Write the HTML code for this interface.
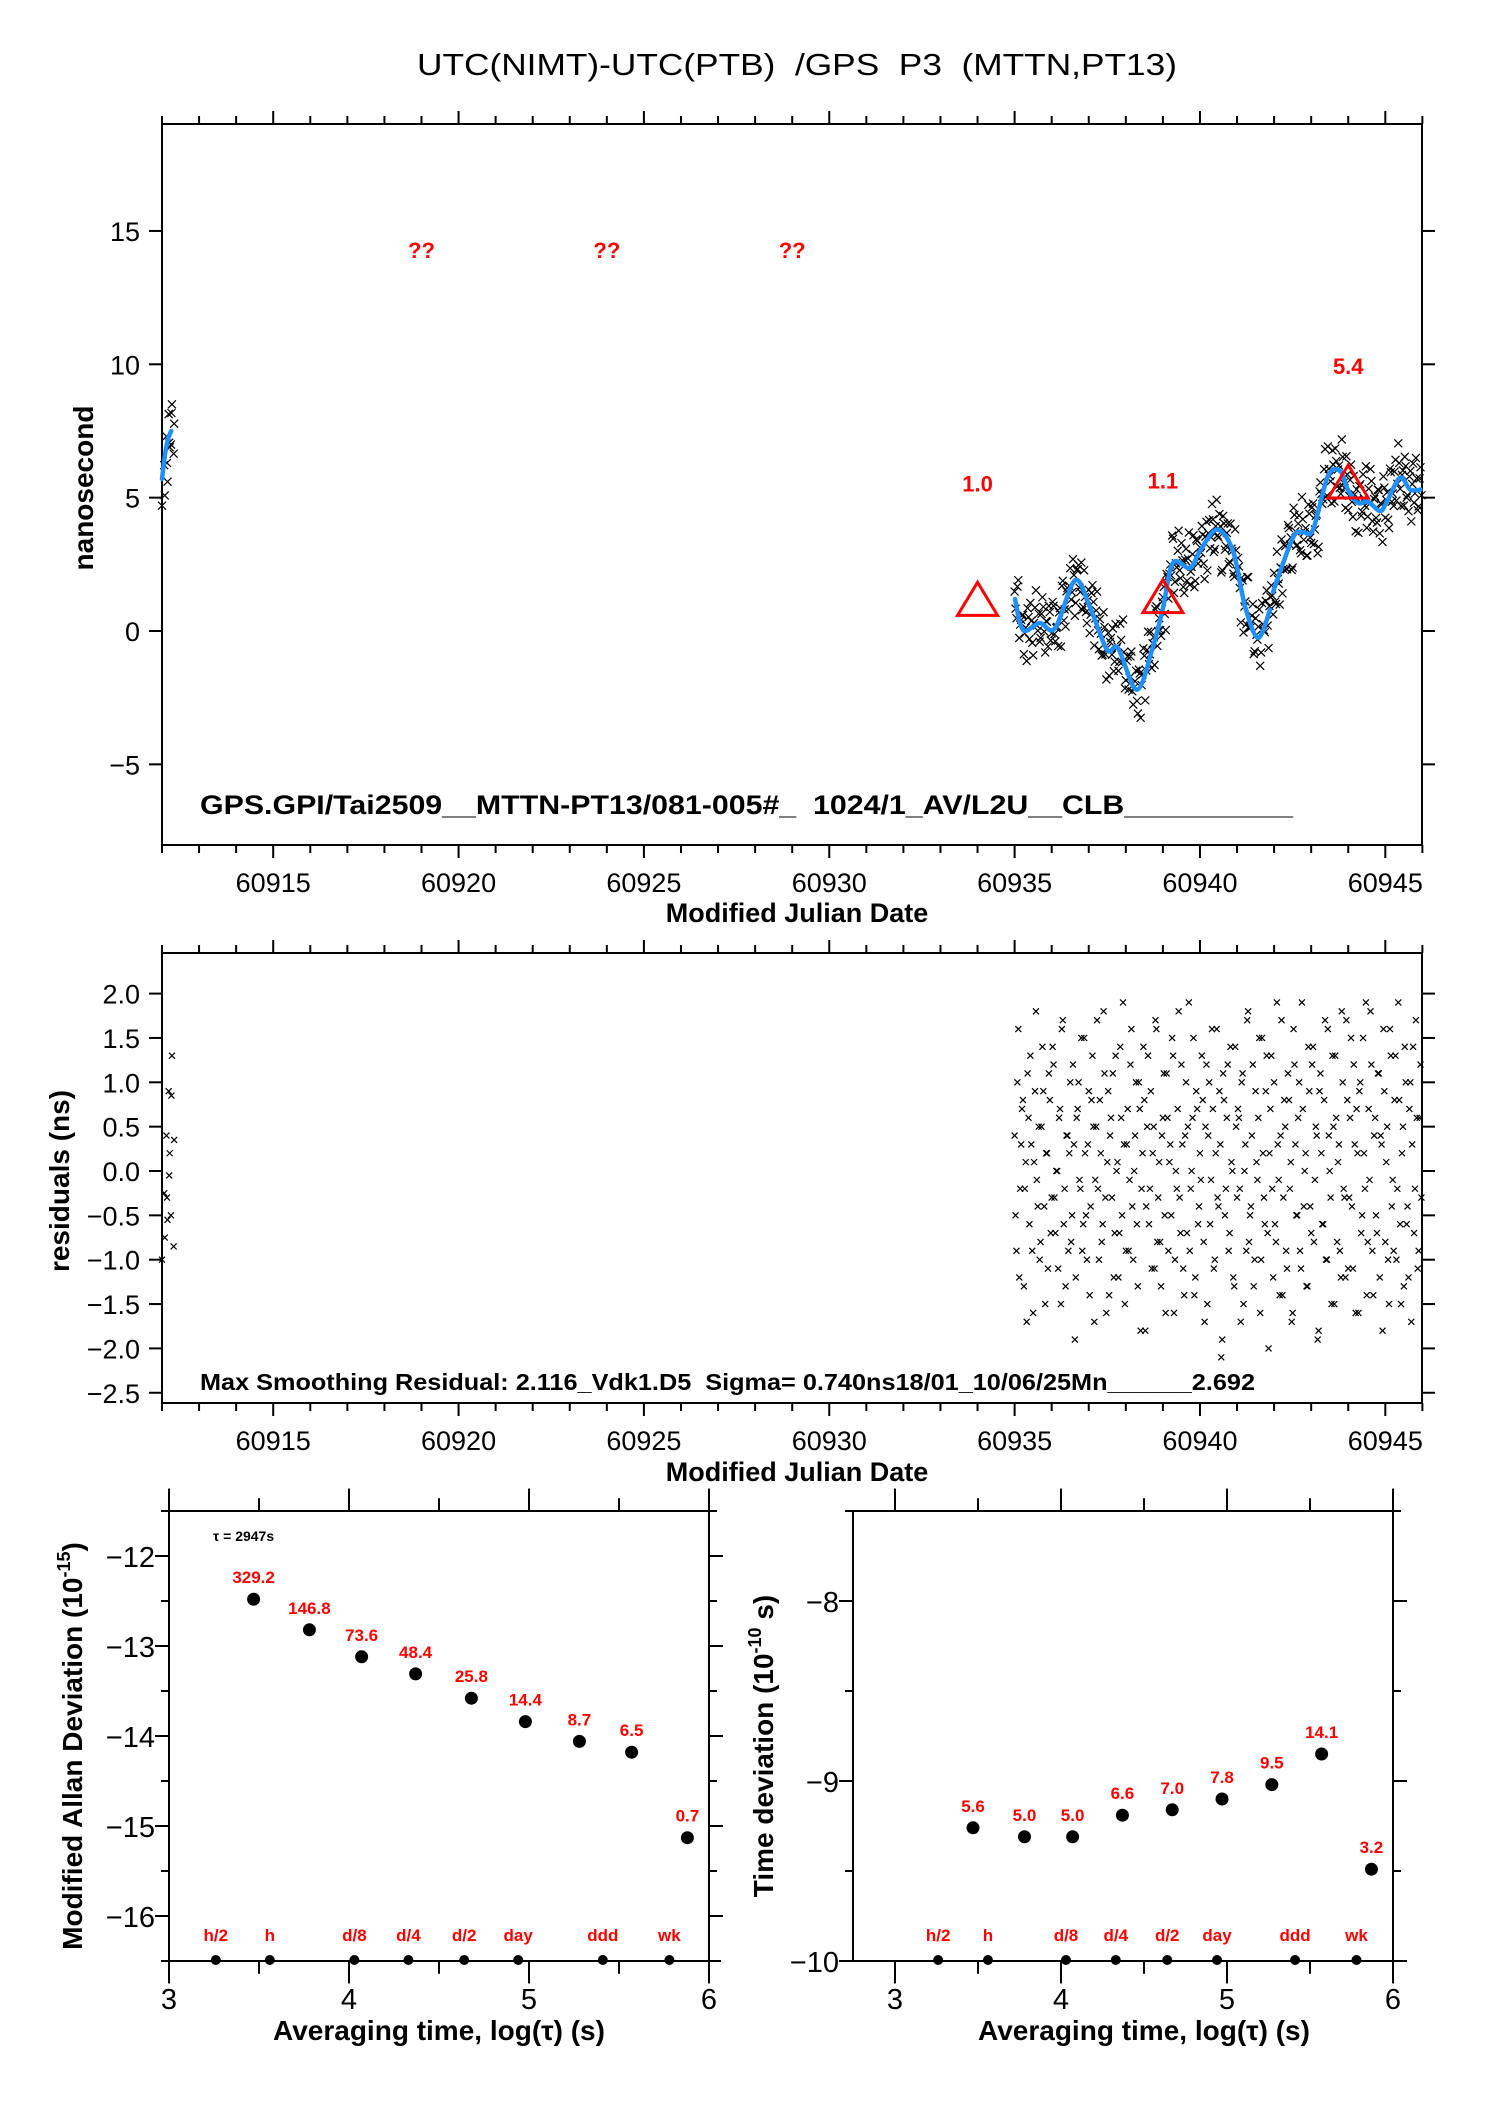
<!DOCTYPE html>
<html><head><meta charset="utf-8"><style>
html,body{margin:0;padding:0;background:#fff;}
svg{display:block;font-family:"Liberation Sans",sans-serif;}
text{white-space:pre;}
</style></head><body>
<svg id="c" width="1488" height="2105" viewBox="0 0 1488 2105" xmlns="http://www.w3.org/2000/svg" xml:space="preserve"></svg>
<script>
// ---------- data ----------
const smoothT1 = [60912.0,60912.08,60912.16,60912.25];
const smoothV1 = [5.7,6.6,7.2,7.5];
const smoothT2 = [60935.01,60935.23,60935.68,60936.09,60936.63,60937.03,60937.49,60937.79,60938.30,60938.73,60939.0,60939.27,60939.73,60940.0,60940.46,60940.89,60941.22,60941.57,60941.89];
const smoothV2 = [1.2,0.04,0.3,0.1,1.9,0.9,-0.7,-0.65,-2.2,-0.6,0.85,2.55,2.36,3.0,3.8,3.0,0.9,-0.26,0.8];
const smoothT3 = [60941.97,60942.51,60942.78,60943.05,60943.45,60943.78,60943.99,60944.26,60944.53,60944.86,60945.04,60945.4,60945.67,60945.95];
const smoothV3 = [1.46,3.5,3.7,3.8,5.8,6.0,5.3,4.8,4.85,4.5,4.85,5.75,5.3,5.3];
const startT = [60912.0,60912.02,60912.04,60912.06,60912.08,60912.1,60912.12,60912.14,60912.16,60912.18,60912.2,60912.22,60912.24,60912.26];
const startRes = [-1.0,-0.75,-0.55,-0.25,-0.3,0.2,0.4,-0.05,1.3,0.9,0.85,0.35,-0.5,-0.85];
const mainStart = 60935.0, mainStep = 0.05;
const mainRes = [
0.4,-0.9,1.6,-0.2,0.7,-1.3,0.1,1.1,-0.6,0.3,-1.6,0.9,-0.1,0.5,-0.8,1.4,-0.4,0.2,-1.1,0.8,
-0.3,1.2,-0.7,0.0,0.6,-1.5,1.7,-0.2,0.4,-0.9,1.0,-0.5,0.3,-1.2,0.7,-0.1,1.5,-0.6,0.2,-1.0,
0.9,-0.4,1.3,-1.7,0.5,-0.2,0.8,-0.8,1.8,-0.3,0.1,-1.4,0.6,1.1,-0.7,0.0,-1.2,1.4,-0.5,0.3,
-0.9,0.7,-0.1,1.6,-1.0,0.4,-0.6,1.0,-1.8,0.2,0.8,-0.4,1.3,-0.2,-1.1,0.5,1.7,-0.8,0.1,-1.3,
0.6,-0.5,1.1,-0.9,0.3,1.5,-1.6,0.0,0.7,-0.3,1.2,-1.1,0.4,-0.7,1.9,-0.2,0.6,-1.4,0.9,-0.6,
0.2,1.3,-0.8,0.5,-1.5,1.0,-0.1,0.7,-1.0,1.6,-0.4,0.3,-1.9,0.8,-0.2,1.2,-0.7,0.1,-1.2,1.4,
-0.3,0.6,-1.7,1.1,0.0,-0.9,1.8,-0.5,0.4,-1.3,0.9,-0.1,1.5,-1.0,0.2,-0.6,1.3,-2.0,0.7,-0.2,
1.0,-0.8,0.3,-1.4,1.7,-0.3,0.5,-1.1,0.8,0.1,-1.6,1.2,-0.5,0.6,-0.9,1.9,-0.4,0.2,-1.3,0.9,
-0.7,1.4,-0.1,0.4,-1.8,1.1,-0.6,0.8,-1.0,1.6,0.0,-1.5,0.5,1.3,-0.8,0.3,-1.2,1.0,-0.3,1.7,
-1.1,0.6,-0.4,1.2,-1.6,0.2,0.9,-0.7,1.5,-0.2,-1.4,0.7,1.8,-0.9,0.4,-0.5,1.1,-1.2,0.3,1.6,
-0.8,0.5,-1.5,1.3,-0.1,0.8,-1.0,1.9,-0.6,0.2,-1.3,1.0,-0.4,0.7,-1.7,1.4,-0.2,0.6,-0.9,1.2];
const mainResB = [
-0.5,1.0,-1.2,0.3,0.8,-0.2,-1.7,0.6,1.3,-0.9,0.1,1.8,-0.4,-1.0,0.5,0.9,-1.5,0.2,1.1,-0.7,
1.4,-0.3,0.0,-1.1,0.7,1.6,-0.6,-1.3,0.4,0.2,-0.8,1.2,-1.9,0.6,1.0,-0.2,-0.9,1.5,-0.5,0.3,
-1.4,0.8,0.5,-0.1,1.7,-1.0,0.2,-0.6,1.1,-1.6,0.9,0.4,-0.3,-1.2,1.3,0.1,-0.7,0.6,1.9,-1.5,
0.3,-0.9,1.2,-0.4,0.0,1.0,-1.3,0.7,-0.2,1.4,-1.8,0.5,-0.6,0.9,0.2,-1.1,1.6,-0.3,-0.8,0.4,
1.1,-1.6,0.6,0.1,-0.5,1.3,-1.0,-0.2,1.8,-0.7,0.3,-1.4,1.0,0.5,-0.9,0.0,1.5,-1.2,0.7,-0.4,
-0.1,0.8,-1.7,1.2,0.4,-0.6,1.6,-1.1,0.2,-0.3,0.9,-2.1,1.1,-0.5,0.6,-0.9,1.4,0.0,-1.3,0.5,
0.7,-0.2,1.0,-1.5,0.3,1.7,-0.8,-0.4,1.2,-1.0,0.1,0.6,-1.6,1.5,-0.3,0.9,-0.7,0.2,1.3,-1.2,
-0.6,1.9,-0.1,0.4,-1.4,0.8,-0.9,1.1,-0.2,-1.7,1.6,0.3,-0.5,1.0,-1.1,0.7,0.0,-1.3,1.4,-0.4,
1.2,-0.8,0.5,-1.9,0.9,0.2,-0.6,1.7,-1.0,0.4,-0.3,1.3,-1.5,0.6,0.1,-0.9,1.8,-0.2,-1.2,0.8,
-0.3,1.5,-1.1,0.3,0.7,-1.6,1.0,-0.5,0.2,1.9,-0.8,-0.1,1.2,-1.4,0.6,-0.7,1.1,0.4,-1.8,0.9,
0.1,-1.0,1.6,-0.4,-0.9,1.3,-0.2,0.8,-1.5,0.5,1.4,-0.6,-1.2,1.0,0.3,-0.7,1.7,-1.1,0.6,-0.3];
const triT = [60934,60939,60944];
const triV = [1.0,1.1,5.4];
const triLabels = ["1.0","1.1","5.4"];
const qT = [60919,60924,60929];
const adevX = [3.47,3.78,4.07,4.37,4.68,4.98,5.28,5.57,5.88];
const adevY = [-12.48,-12.82,-13.12,-13.31,-13.58,-13.84,-14.06,-14.18,-15.13];
const adevLabels = ["329.2","146.8","73.6","48.4","25.8","14.4","8.7","6.5","0.7"];
const tdevX = [3.47,3.78,4.07,4.37,4.67,4.97,5.27,5.57,5.87];
const tdevY = [-9.26,-9.31,-9.31,-9.19,-9.16,-9.10,-9.02,-8.85,-9.49];
const tdevLabels = ["5.6","5.0","5.0","6.6","7.0","7.8","9.5","14.1","3.2"];
const markX = [3.26,3.56,4.03,4.33,4.64,4.94,5.41,5.78];
const markLabels = ["h/2","h","d/8","d/4","d/2","day","ddd","wk"];

// ---------- helpers ----------
const NS="http://www.w3.org/2000/svg";
const svg=document.getElementById('c');
function mk(tag,attrs,parent){const e=document.createElementNS(NS,tag);for(const k in attrs)e.setAttribute(k,attrs[k]);(parent||svg).appendChild(e);return e;}
function txt(s,x,y,size,opts,parent){opts=opts||{};const e=mk('text',{x:x,y:y,'font-size':size,'text-anchor':opts.anchor||'middle',fill:opts.fill||'#000','font-weight':opts.bold?'bold':'normal'},parent);if(opts.tl){e.setAttribute('textLength',opts.tl);e.setAttribute('lengthAdjust','spacingAndGlyphs');}if(opts.rot)e.setAttribute('transform','rotate(-90 '+x+' '+y+')');e.textContent=s;return e;}
function line(x1,y1,x2,y2,w,parent,col){return mk('line',{x1:x1,y1:y1,x2:x2,y2:y2,stroke:col||'#000','stroke-width':w||2},parent);}
function interp(ts,vs,t){for(let i=0;i<ts.length-1;i++){if(t>=ts[i]&&t<=ts[i+1]){const f=(t-ts[i])/(ts[i+1]-ts[i]);const s=(1-Math.cos(f*Math.PI))/2;return vs[i]+s*(vs[i+1]-vs[i]);}}return t<ts[0]?vs[0]:vs[vs.length-1];}
function smoothAt(t){if(t<60920)return interp(smoothT1,smoothV1,t);if(t<60941.93)return interp(smoothT2,smoothV2,t);return interp(smoothT3,smoothV3,t);}
function cross(x,y,g,s){s=s||3.5;line(x-s,y-s,x+s,y+s,1.2,g);line(x-s,y+s,x+s,y-s,1.2,g);}
function crPath(pts){let d='M'+pts[0][0]+','+pts[0][1];for(let i=0;i<pts.length-1;i++){const p0=pts[Math.max(0,i-1)],p1=pts[i],p2=pts[i+1],p3=pts[Math.min(pts.length-1,i+2)];
  d+=' C'+(p1[0]+(p2[0]-p0[0])/6)+','+(p1[1]+(p2[1]-p0[1])/6)+' '+(p2[0]-(p3[0]-p1[0])/6)+','+(p2[1]-(p3[1]-p1[1])/6)+' '+p2[0]+','+p2[1];}return d;}

// ---------- MJD plots ----------
const L=162,R=1422;
const mx=m=>L+(m-60912)*37.07;
function mjdFrame(g,top,bot){
  mk('rect',{x:L,y:top,width:R-L,height:bot-top,fill:'none',stroke:'#000','stroke-width':2},g);
  for(let m=60912;m<=60946;m++){const maj=m%5===0;const len=maj?13:8;const x=mx(m);
    line(x,top,x,top-len,2,g);line(x,bot,x,bot+len,2,g);}
}
function mjdLabels(g,yl,yt){
  for(let m=60915;m<=60945;m+=5){const t=txt(String(m),mx(m),yl,27,{},g);}
  const xt=txt('Modified Julian Date',797,yt,27,{bold:true},g);
  
}

// title
const title=txt('UTC(NIMT)-UTC(PTB)  /GPS  P3  (MTTN,PT13)',797,75,31,{tl:760});



// top plot
const g1=mk('g',{});


const y1=v=>631-v*26.67;
mjdFrame(g1,124,845);
for(let v=-5;v<=15;v+=5){line(L,y1(v),L-13,y1(v),2,g1);line(R,y1(v),R+13,y1(v),2,g1);
  const t=txt(String(v).replace('-','\u2212'),L-22,y1(v)+10,27,{anchor:'end'},g1);
  }
mjdLabels(g1,892,922);
const yt1=txt('nanosecond',93,488,28,{bold:true,rot:true},g1);

const sc1=mk('g',{},g1);


startT.forEach((t,i)=>cross(mx(t)+ (i%3)*2,y1(smoothAt(t)+startRes[i]),sc1,4));
mainRes.forEach((r,i)=>{const t=mainStart+i*mainStep;cross(mx(t),y1(smoothAt(t)+r*0.7),sc1,4);});
mainResB.forEach((r,i)=>{const t=mainStart+0.025+i*mainStep;cross(mx(t),y1(smoothAt(t)+r*0.7),sc1,4);});
[[smoothT1,smoothV1],[smoothT2,smoothV2],[smoothT3,smoothV3]].forEach(([ts,vs])=>{
  const p=mk('path',{d:crPath(ts.map((t,i)=>[mx(t),y1(vs[i])])),fill:'none',stroke:'#1e90ff','stroke-width':4.5,'stroke-linejoin':'round','stroke-linecap':'round'},g1);
  
});
triT.forEach((t,i)=>{const x=mx(t),y=y1(triV[i]);
  const tr=mk('polygon',{points:(x)+','+(y-22)+' '+(x-20)+','+(y+11)+' '+(x+20)+','+(y+11),fill:'none',stroke:'#f00','stroke-width':3},g1);
  
  const lb=txt(triLabels[i],x,y-113,22,{bold:true,fill:'#f00'},g1);
  
});
qT.forEach(t=>{const q=txt('??',mx(t),258,22,{bold:true,fill:'#f00'},g1);
  });
const info1=txt('GPS.GPI/Tai2509__MTTN-PT13/081-005#_  1024/1_AV/L2U__CLB__________',200,814,27,{bold:true,anchor:'start',tl:1093},g1);


// residual plot
const g2=mk('g',{});


const y2=v=>1171-v*88.7;
mjdFrame(g2,953,1403);
for(let k=-5;k<=4;k++){const v=k*0.5;line(L,y2(v),L-13,y2(v),2,g2);line(R,y2(v),R+13,y2(v),2,g2);
  const t=txt(v.toFixed(1).replace('-','\u2212'),L-22,y2(v)+10,27,{anchor:'end'},g2);
  }
mjdLabels(g2,1450,1481);
const yt2=txt('residuals (ns)',69,1181,28,{bold:true,rot:true},g2);

const sc2=mk('g',{},g2);


startT.forEach((t,i)=>cross(mx(t)+ (i%3)*2,y2(startRes[i]),sc2,3));
mainRes.forEach((r,i)=>{const t=mainStart+i*mainStep;cross(mx(t),y2(r),sc2,3);});
mainResB.forEach((r,i)=>{const t=mainStart+0.025+i*mainStep;cross(mx(t),y2(r),sc2,3);});
const info2=txt('Max Smoothing Residual: 2.116_Vdk1.D5  Sigma= 0.740ns18/01_10/06/25Mn______2.692',200,1390,23,{bold:true,anchor:'start',tl:1055},g2);


// ---------- stability plots ----------
function stabPlot(name,fL,x0,x1,yTop,yBot,vTop,vBot,majors,xs,ys,labs,ylab,ylabX){
  const g=mk('g',{});
  
  
  const X=v=>x0+(v-3)*(x1-x0)/3;
  const Y=v=>yTop+(vTop-v)*(yBot-yTop)/(vTop-vBot);
  line(fL,yTop,fL,yBot,2,g);line(x1,yTop,x1,yBot,2,g);
  line(fL-2,yTop,x1+2,yTop,2,g);line(fL-2,yBot,x1+12,yBot,2,g);
  for(let v=3;v<=6;v+=0.5){const maj=Number.isInteger(v);const len=maj?14:8;
    line(X(v),yTop,X(v),yTop-len*1.6,2,g);line(X(v),yBot,X(v),yBot+len*1.6,2,g);
    if(maj){const t=txt(String(v),X(v),yBot+48,29,{},g);}}
  for(let v=Math.ceil(vBot*2)/2;v<=vTop;v+=0.5){const maj=Number.isInteger(v);
    line(fL,Y(v),fL-(maj?14:8),Y(v),2,g);line(x1,Y(v),x1+(maj?14:8),Y(v),2,g);}
  majors.forEach(v=>{const t=txt(String(v).replace('-','\u2212'),fL-14,Y(v)+11,29,{anchor:'end'},g);});
  const xt=txt('Averaging time, log(\u03c4) (s)',(x0+x1)/2,2040,28,{bold:true},g);
  
  const yt=mk('text',{x:ylabX,y:(yTop+yBot)/2+10,'font-size':28,'font-weight':'bold','text-anchor':'middle',transform:'rotate(-90 '+ylabX+' '+((yTop+yBot)/2+10)+')'},g);
  yt.innerHTML=ylab;
  
  xs.forEach((v,i)=>{const c=mk('circle',{cx:X(v),cy:Y(ys[i]),r:6.5,fill:'#000'},g);
    
    const l=txt(labs[i],X(v),Y(ys[i])-16,17,{bold:true,fill:'#f00'},g);
    });
  markX.forEach((v,i)=>{const c=mk('circle',{cx:X(v),cy:yBot-1,r:5,fill:'#000'},g);
    
    const l=txt(markLabels[i],X(v),yBot-20,17,{bold:true,fill:'#f00'},g);
    });
  return g;
}
const gA=stabPlot('allan-deviation-plot',169,169,709,1511,1961,-11.5,-16.5,[-12,-13,-14,-15,-16],adevX,adevY,adevLabels,'Modified Allan Deviation (10<tspan font-size="18" dy="-12">-15</tspan><tspan dy="12">)</tspan>',82);
const tau=txt('\u03c4 = 2947s',213,1541,14,{bold:true,anchor:'start'},gA);

stabPlot('time-deviation-plot',853,895,1393,1511,1961,-7.5,-10,[-8,-9,-10],tdevX,tdevY,tdevLabels,'Time deviation (10<tspan font-size="18" dy="-12">-10</tspan><tspan dy="12"> s)</tspan>',773);
</script>
</body></html>
